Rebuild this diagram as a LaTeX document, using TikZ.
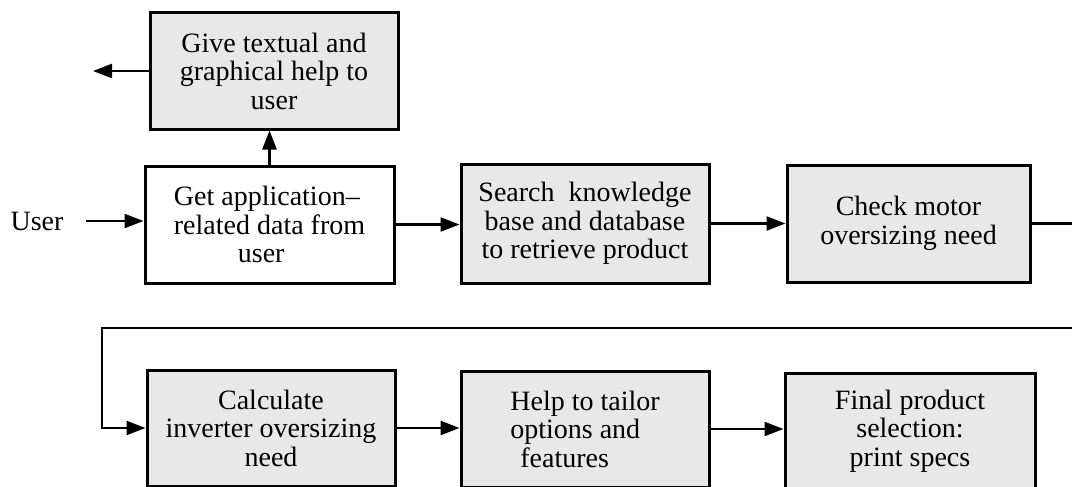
\documentclass[tikz,border=0pt]{standalone}
\usepackage{fontspec}
\setmainfont{Liberation Serif}
\usetikzlibrary{arrows.meta}
\begin{document}
\begin{tikzpicture}[x=1pt,y=-1pt,
  box/.style={draw, line width=3pt, fill=black!9, inner sep=0pt, align=center,
    font=\fontsize{28}{28.5}\selectfont},
  plainbox/.style={box, fill=white},
  arr/.style={line width=2.4pt, -{Triangle[length=19pt,width=14pt]}},
  ln/.style={line width=2.4pt}]
\useasboundingbox (0,0) rectangle (1072,487);
\node[box, minimum width=248pt, minimum height=116pt] (b1) at (274,71)
  {Give textual and\\graphical help to\\user};
\node[plainbox, minimum width=249pt, minimum height=117pt, align=left] (b2) at (269.5,224.5)
  {Get application–\\related data from\\\hspace*{64pt}user};
\node[box, minimum width=248pt, minimum height=119pt] (b3) at (585,223.5)
  {Search\ \ knowledge\\base and database\\to retrieve product};
\node[box, minimum width=243pt, minimum height=117pt] (b4) at (908.5,223.5)
  {Check motor\\oversizing need};
\node[box, minimum width=248pt, minimum height=116pt] (b5) at (271,428)
  {Calculate\\inverter oversizing\\need};
\node[box, minimum width=248pt, minimum height=116pt, align=left] (b6) at (585,429)
  {Help to tailor\\options and\\\hspace*{10pt}features};
\node[box, minimum width=250pt, minimum height=116pt] (b7) at (910,431)
  {Final product\\selection:\\print specs};
\node[font=\fontsize{28}{28.5}\selectfont, inner sep=0pt] (user) at (37,221) {User};
\coordinate (hl) at (93,71);
\coordinate (r1) at (1072,222);
\coordinate (r2) at (1072,328);
\coordinate (l2) at (102,328);
\draw[arr] (b1.west) -- (hl);
\draw[arr] (b2.north) -- (b2.north |- b1.south);
\draw[arr] ([xshift=22pt]user.east) -- (user.east -| b2.west);
\draw[arr] (b2.east) -- (b2.east -| b3.west);
\draw[arr] (b3.east) -- (b3.east -| b4.west);
\draw[ln] (b4.east) -- (b4.east -| r1);
\draw[arr] (r2) -- (l2) |- (b5.west);
\draw[arr] (b5.east) -- (b5.east -| b6.west);
\draw[arr] (b6.east) -- (b6.east -| b7.west);
\end{tikzpicture}
\end{document}
